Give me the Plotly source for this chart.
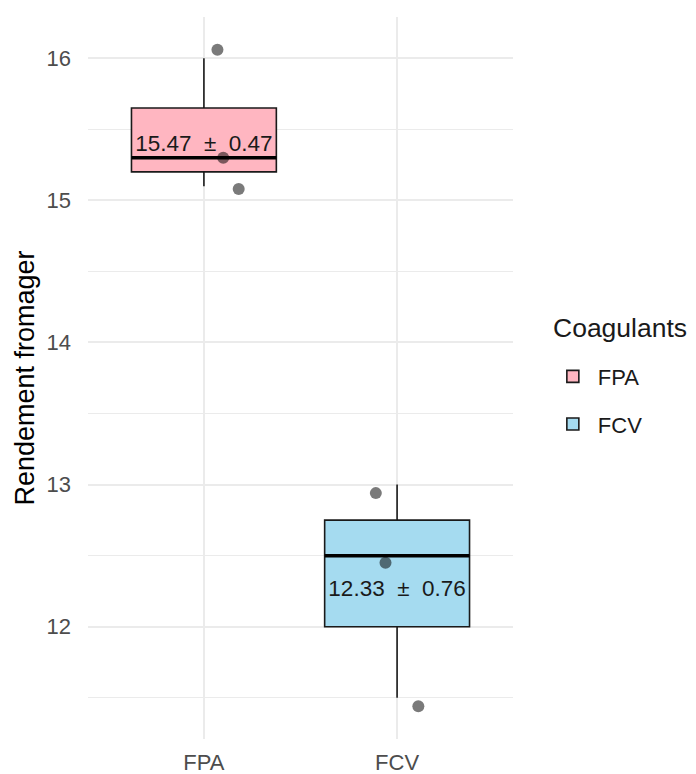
import numpy as np
import plotly.graph_objects as go

# ---- data ----
categories = ["FPA", "FCV"]
cat_pos = [1, 2]
fpa_values = [15.1, 15.3, 16.0]
fcv_values = [11.5, 12.5, 13.0]
# jittered points as displayed
fpa_jit_y = [16.06, 15.30, 15.08]
fpa_jit_dx = [0.07, 0.10, 0.18]
fcv_jit_y = [12.94, 12.45, 11.44]
fcv_jit_dx = [-0.11, -0.06, 0.11]
fills = ["rgb(255,182,193)", "rgb(165,219,240)"]
y_ticks = [12, 13, 14, 15, 16]

FONT = "Liberation Sans, Arial, sans-serif"
BOXW = 0.75
NB = "\u00a0"

fig = go.Figure()
groups = [(fpa_values, fpa_jit_y, fpa_jit_dx), (fcv_values, fcv_jit_y, fcv_jit_dx)]

for i, (vals, jy, jdx) in enumerate(groups):
    x0 = cat_pos[i]
    fig.add_trace(go.Box(
        x=[x0] * len(vals), y=vals, name=categories[i],
        quartilemethod="inclusive", boxpoints=False, width=BOXW,
        fillcolor=fills[i], line=dict(color="#1a1a1a", width=1.6),
        whiskerwidth=0, legendgroup=categories[i], showlegend=True,
    ))

for i, (vals, jy, jdx) in enumerate(groups):
    x0 = cat_pos[i]
    med = float(np.median(vals))
    fig.add_trace(go.Scatter(
        x=[x0 - BOXW / 2, x0 + BOXW / 2], y=[med, med], mode="lines",
        line=dict(color="black", width=3.5), showlegend=False, hoverinfo="skip",
    ))

for i, (vals, jy, jdx) in enumerate(groups):
    x0 = cat_pos[i]
    fig.add_trace(go.Scatter(
        x=[x0 + d for d in jdx], y=jy, mode="markers",
        marker=dict(color="rgba(0,0,0,0.52)", size=12, line=dict(width=0)),
        showlegend=False, hoverinfo="skip",
    ))

for i, (vals, jy, jdx) in enumerate(groups):
    x0 = cat_pos[i]
    m = np.mean(vals)
    s = np.std(vals, ddof=1)
    fig.add_trace(go.Scatter(
        x=[x0], y=[m], mode="text",
        text=[f"{m:.2f} {NB}±{NB} {s:.2f}"],
        textposition="bottom center",
        textfont=dict(family=FONT, size=22.5, color="#1a1a1a"),
        showlegend=False, hoverinfo="skip",
    ))

fig.add_annotation(
    text="Coagulants", xref="paper", yref="paper", x=1.089, y=0.569,
    xanchor="left", yanchor="middle", showarrow=False,
    font=dict(family=FONT, size=26.5, color="#1a1a1a"),
)

fig.update_layout(
    width=696, height=774,
    margin=dict(l=80, r=191, t=9, b=43, autoexpand=False),
    plot_bgcolor="white", paper_bgcolor="white",
    font=dict(family=FONT, color="#1a1a1a"),
    boxmode="overlay",
    legend=dict(
        font=dict(size=22, color="#1a1a1a"),
        x=1.082, xanchor="left", y=0.531, yanchor="top",
        tracegroupgap=16, itemwidth=40, bgcolor="rgba(0,0,0,0)",
    ),
    xaxis=dict(
        range=[0.4, 2.6], tickvals=cat_pos, ticktext=categories,
        showgrid=True, gridcolor="#ebebeb", gridwidth=1.5,
        zeroline=False, showline=False, ticks="", automargin=False,
        tickfont=dict(size=22, color="#4d4d4d"), ticklabelstandoff=8,
    ),
    yaxis=dict(
        range=[11.21, 16.29], tickvals=y_ticks,
        showgrid=True, gridcolor="#ebebeb", gridwidth=1.5,
        minor=dict(tickvals=[11.5, 12.5, 13.5, 14.5, 15.5], showgrid=True,
                   gridcolor="#ebebeb", gridwidth=1.2),
        zeroline=False, showline=False, ticks="", automargin=False,
        tickfont=dict(size=22, color="#4d4d4d"), ticklabelstandoff=16,
        title=dict(text="Rendement fromager", font=dict(size=27, color="black"), standoff=4),
    ),
)

fig.write_html("out.html")
